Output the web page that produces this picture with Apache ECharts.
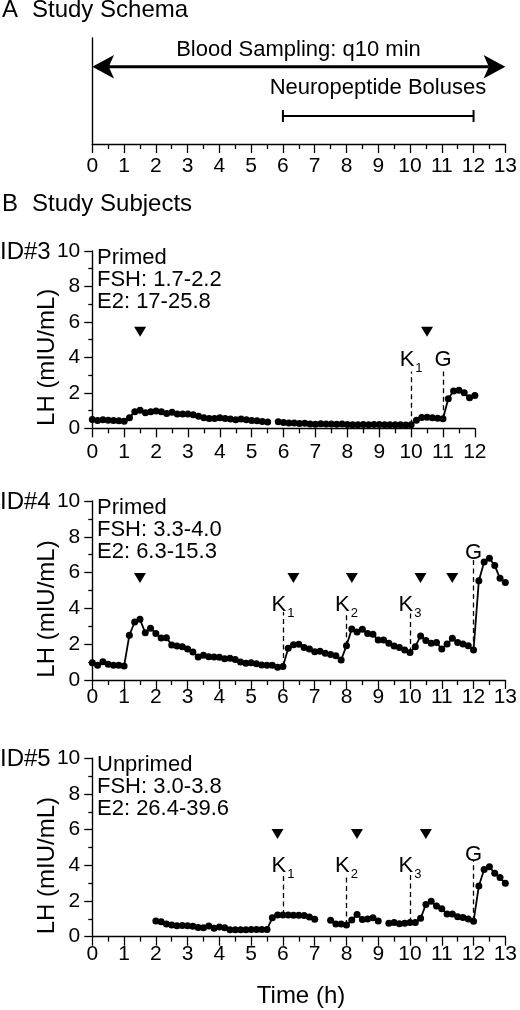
<!DOCTYPE html>
<html>
<head>
<meta charset="utf-8">
<script src="https://cdn.jsdelivr.net/npm/echarts@6/dist/echarts.min.js"></script>
<style>
  html, body { margin: 0; padding: 0; background: #fff; }
  #chart { width: 520px; height: 1010px; }
</style>
</head>
<body>
<div id="chart"></div>
<script>
// ---------------- DATA ----------------
// Sampling every 10 min (q10 min) => 6 samples per hour. null = missing sample.
const SAMPLES_PER_HOUR = 6;

const id3Start = 0;
const id3LH = [
  0.5, 0.44, 0.48, 0.46, 0.44, 0.43,
  0.4, 0.6, 0.94, 1.02, 0.87, 0.94,
  0.98, 0.93, 0.83, 0.9, 0.8, 0.8,
  0.8, 0.76, 0.68, 0.6, 0.55, 0.55,
  0.6, 0.55, 0.52, 0.48, 0.52, 0.48,
  0.44, 0.42, 0.38, 0.35, null, 0.37,
  0.33, 0.3, 0.3, 0.27, 0.29, 0.24,
  0.23, 0.25, 0.24, 0.24, 0.23, 0.24,
  0.22, 0.2, 0.2, 0.22, 0.2, 0.21,
  0.21, 0.2, 0.2, 0.2, 0.2, 0.19,
  0.2, 0.46, 0.61, 0.63, 0.6, 0.56,
  0.54, 1.67, 2.1, 2.15, 2.0, 1.72,
  1.85
];

const id4Start = 0;
const id4LH = [
  0.97, 0.82, 1.02, 0.88, 0.82, 0.82,
  0.78, 2.5, 3.24, 3.39, 2.64, 2.89,
  2.6, 2.35, 2.36, 1.96, 1.9, 1.86,
  1.73, 1.56, 1.28, 1.38, 1.3, 1.28,
  1.27, 1.19, 1.21, 1.15, 1.0, 0.93,
  0.97, 0.91, 0.84, 0.82, 0.82, 0.71,
  0.76, 1.77, 1.97, 2.0, 1.82, 1.73,
  1.58, 1.6, 1.5, 1.42, 1.35, 1.12,
  1.92, 2.85, 2.68, 2.83, 2.6, 2.55,
  2.23, 2.23, 2.05, 1.9, 1.81, 1.68,
  1.53, 1.86, 2.46, 2.2, 2.05, 2.09,
  1.73, 2.01, 2.33, 2.09, 2.01, 1.92,
  1.68, 5.55, 6.59, 6.8, 6.39, 5.68,
  5.44
];

const id5Start = 2;
const id5LH = [
  0.88, 0.84, 0.71, 0.65, 0.62, 0.63,
  0.62, 0.58, 0.52, 0.5, 0.6, 0.47,
  0.54, 0.5, 0.39, 0.39, 0.39, 0.39,
  0.41, 0.41, 0.41, 0.41, 1.06, 1.21,
  1.21, 1.21, 1.2, 1.2, 1.19, 1.1,
  0.98, null, null, 0.92, 0.71, 0.71,
  0.65, 0.93, 1.25, 0.97, 0.99, 1.06,
  0.88, null, 0.75, 0.8, 0.73, 0.75,
  0.8, 0.8, 1.03, 1.81, 1.98, 1.72,
  1.57, 1.27, 1.27, 1.12, 1.08, 0.99,
  0.86, 2.84, 3.77, 3.92, 3.55, 3.31,
  2.99
];

// Bolus (arrowhead) times, h
const id3Boluses = [1.5, 10.5];
const id4Boluses = [1.5, 6.33, 8.17, 10.33, 11.33];
const id5Boluses = [5.83, 8.33, 10.5];

// Neuropeptide markers: [label, subscript, time h]
const id3Markers = [['K', '1', 10], ['G', '', 11]];
const id4Markers = [['K', '1', 6], ['K', '2', 8], ['K', '3', 10], ['G', '', 12]];
const id5Markers = [['K', '1', 6], ['K', '2', 8], ['K', '3', 10], ['G', '', 12]];

// Panel notes
const id3Notes = ['Primed', 'FSH: 1.7-2.2', 'E2: 17-25.8'];
const id4Notes = ['Primed', 'FSH: 3.3-4.0', 'E2: 6.3-15.3'];
const id5Notes = ['Unprimed', 'FSH: 3.0-3.8', 'E2: 26.4-39.6'];

// Schema: [start h, end h]
const samplingSpan = [0, 13];
const bolusSpan = [6, 12];

// ---------------- LAYOUT / STYLE ----------------
const FONT = "'Liberation Sans', Arial, sans-serif";
const BLACK = '#000';
const LEFT = 92.3;
const HOUR_PX = 31.88;

const panels = [
  { key: 'id3', top: 251, height: 177.3, xmax: 12, start: id3Start, lh: id3LH, boluses: id3Boluses, bolusY: 5.45,
    markers: id3Markers, kTop: 3.2, kLabel: 3.85, gTop: 3.2, gLabel: 3.85, notes: id3Notes, id: 'ID#3', labMargin: 13 },
  { key: 'id4', top: 501, height: 179, xmax: 13, start: id4Start, lh: id4LH, boluses: id4Boluses, bolusY: 5.7,
    markers: id4Markers, kTop: 3.8, kLabel: 4.2, gTop: 6.7, gLabel: 7.1, notes: id4Notes, id: 'ID#4', labMargin: 7 },
  { key: 'id5', top: 758.2, height: 178.5, xmax: 13, start: id5Start, lh: id5LH, boluses: id5Boluses, bolusY: 5.75,
    markers: id5Markers, kTop: 3.45, kLabel: 3.95, gTop: 4.3, gLabel: 4.6, notes: id5Notes, id: 'ID#5', labMargin: 7 }
];

function xAxisCfg(gridIndex, max, margin) {
  return {
    type: 'value', gridIndex, min: 0, max, interval: 1,
    axisLine: { show: true, onZero: false, lineStyle: { color: BLACK, width: 1.4 } },
    axisTick: { show: true, length: 9, lineStyle: { color: BLACK, width: 1.3 } },
    minorTick: { show: true, splitNumber: 2, length: 5, lineStyle: { color: BLACK, width: 1.3 } },
    splitLine: { show: false }, minorSplitLine: { show: false },
    axisLabel: { color: BLACK, fontSize: 21, fontFamily: FONT, margin }
  };
}
function yAxisCfg(gridIndex) {
  return {
    type: 'value', gridIndex, min: 0, max: 10, interval: 2,
    axisLine: { show: true, lineStyle: { color: BLACK, width: 1.4 } },
    axisTick: { show: true, length: 8, lineStyle: { color: BLACK, width: 1.3 } },
    minorTick: { show: true, splitNumber: 2, length: 4, lineStyle: { color: BLACK, width: 1.3 } },
    splitLine: { show: false }, minorSplitLine: { show: false },
    axisLabel: { color: BLACK, fontSize: 21, fontFamily: FONT, margin: 12 }
  };
}

const grids = [{ left: LEFT, top: 38, width: HOUR_PX * 13, height: 106 }];
const xAxes = [xAxisCfg(0, 13, 12)];
const yAxes = [{
  type: 'value', gridIndex: 0, min: 0, max: 1,
  axisLine: { show: true, lineStyle: { color: BLACK, width: 1.4 } },
  axisTick: { show: false }, axisLabel: { show: false }, splitLine: { show: false }
}];
const series = [];
const graphics = [];

// ---- Schema series ----
function spanRenderer(kind) {
  return function (params, api) {
    const y = api.value(1);
    const p0 = api.coord([api.value(0), y]);
    const p1 = api.coord([api.value(2), y]);
    if (kind === 'arrow') {
      const L = 21.7, H = 11.7, N = 16.5;
      return {
        type: 'group', children: [
          { type: 'line', shape: { x1: p0[0] + N, y1: p0[1], x2: p1[0] - N, y2: p1[1] },
            style: { stroke: BLACK, lineWidth: 3 } },
          { type: 'polygon', shape: { points: [[p0[0], p0[1]], [p0[0] + L, p0[1] - H], [p0[0] + N, p0[1]], [p0[0] + L, p0[1] + H]] },
            style: { fill: BLACK } },
          { type: 'polygon', shape: { points: [[p1[0], p1[1]], [p1[0] - L, p1[1] - H], [p1[0] - N, p1[1]], [p1[0] - L, p1[1] + H]] },
            style: { fill: BLACK } }
        ]
      };
    }
    const c = 6;
    return {
      type: 'group', children: [
        { type: 'line', shape: { x1: p0[0], y1: p0[1], x2: p1[0], y2: p1[1] }, style: { stroke: BLACK, lineWidth: 2 } },
        { type: 'line', shape: { x1: p0[0], y1: p0[1] - c, x2: p0[0], y2: p0[1] + c }, style: { stroke: BLACK, lineWidth: 2 } },
        { type: 'line', shape: { x1: p1[0], y1: p1[1] - c, x2: p1[0], y2: p1[1] + c }, style: { stroke: BLACK, lineWidth: 2 } }
      ]
    };
  };
}
series.push({
  type: 'custom', xAxisIndex: 0, yAxisIndex: 0, renderItem: spanRenderer('arrow'),
  data: [[samplingSpan[0], 0.729, samplingSpan[1]]], silent: true
});
series.push({
  type: 'custom', xAxisIndex: 0, yAxisIndex: 0, renderItem: spanRenderer('bar'),
  data: [[bolusSpan[0], 0.264, bolusSpan[1]]], silent: true
});
series.push({
  type: 'scatter', xAxisIndex: 0, yAxisIndex: 0, symbolSize: 0, silent: true,
  itemStyle: { opacity: 1 },
  data: [
    { name: 'Blood Sampling: q10 min', value: [6.49, 0.887] },
    { name: 'Neuropeptide Boluses', value: [8.99, 0.525] }
  ],
  label: { show: true, position: 'inside', formatter: p => p.name, color: BLACK, opacity: 1, fontSize: 22, fontFamily: FONT }
});

// ---- Subject panels ----
panels.forEach((pn, i) => {
  const gi = i + 1;
  grids.push({ left: LEFT, top: pn.top, width: HOUR_PX * pn.xmax, height: pn.height });
  xAxes.push(xAxisCfg(gi, pn.xmax, pn.labMargin));
  yAxes.push(yAxisCfg(gi));

  const pts = pn.lh.map((v, k) => [pn.start + k / SAMPLES_PER_HOUR, v]);
  const valueAt = t => pn.lh[Math.round((t - pn.start) * SAMPLES_PER_HOUR)];

  series.push({
    type: 'line', xAxisIndex: gi, yAxisIndex: gi, data: pts,
    symbol: 'circle', symbolSize: 7, showSymbol: true, connectNulls: false,
    lineStyle: { color: BLACK, width: 1.8 }, itemStyle: { color: BLACK, opacity: 1 },
    silent: true,
    markLine: {
      silent: true, symbol: 'none', animation: false,
      lineStyle: { color: BLACK, type: [5, 3.5], width: 1.3, opacity: 1 },
      label: { show: false },
      data: pn.markers.map(m => {
        const top = m[0] === 'G' ? pn.gTop : pn.kTop;
        return [{ coord: [m[2], valueAt(m[2])] }, { coord: [m[2], top] }];
      })
    }
  });

  series.push({
    type: 'scatter', xAxisIndex: gi, yAxisIndex: gi, silent: true,
    symbol: 'triangle', symbolRotate: 180, symbolSize: [12, 10],
    itemStyle: { color: BLACK, opacity: 1 },
    data: pn.boluses.map(t => [t, pn.bolusY])
  });

  series.push({
    type: 'scatter', xAxisIndex: gi, yAxisIndex: gi, silent: true, symbolSize: 0,
    itemStyle: { opacity: 1 },
    data: pn.markers.map(m => ({ name: m[0], sub: m[1], value: [m[2], m[0] === 'G' ? pn.gLabel : pn.kLabel] })),
    label: {
      show: true, position: 'inside', opacity: 1,
      formatter: p => p.data.sub ? '{k|' + p.data.name + '}{s|' + p.data.sub + '}' : '{k|' + p.data.name + '}',
      rich: {
        k: { fontSize: 22, fontFamily: FONT, color: BLACK, lineHeight: 30 },
        s: { fontSize: 13, fontFamily: FONT, color: BLACK, verticalAlign: 'bottom', lineHeight: 12, padding: [0, 0, 0, 1] }
      }
    }
  });

  graphics.push({
    type: 'text', x: 97, y: pn.top - 4,
    style: { text: pn.notes.join('\n'), font: '22px ' + FONT, fill: BLACK, lineHeight: 22, align: 'left', verticalAlign: 'top' }
  });
  graphics.push({
    type: 'text', x: 0, y: pn.top + 1,
    style: { text: pn.id, font: '24px ' + FONT, fill: BLACK, align: 'left', verticalAlign: 'middle' }
  });
  graphics.push({
    type: 'text', x: 47.5, y: pn.top + pn.height - 71, rotation: Math.PI / 2,
    style: { text: 'LH (mIU/mL)', font: '24px ' + FONT, fill: BLACK, align: 'center', verticalAlign: 'middle' }
  });
});

graphics.push(
  { type: 'text', x: 2, y: 10, style: { text: 'A', font: '24px ' + FONT, fill: BLACK, verticalAlign: 'middle' } },
  { type: 'text', x: 32, y: 10, style: { text: 'Study Schema', font: '24px ' + FONT, fill: BLACK, verticalAlign: 'middle' } },
  { type: 'text', x: 2, y: 204.5, style: { text: 'B', font: '24px ' + FONT, fill: BLACK, verticalAlign: 'middle' } },
  { type: 'text', x: 32, y: 204.5, style: { text: 'Study Subjects', font: '24px ' + FONT, fill: BLACK, verticalAlign: 'middle' } },
  { type: 'text', x: 301, y: 996, style: { text: 'Time (h)', font: '24px ' + FONT, fill: BLACK, align: 'center', verticalAlign: 'middle' } }
);

const chart = echarts.init(document.getElementById('chart'), null, { renderer: 'canvas' });
chart.setOption({
  animation: false,
  backgroundColor: '#fff',
  grid: grids,
  xAxis: xAxes,
  yAxis: yAxes,
  series,
  graphic: graphics
});
</script>
</body>
</html>
